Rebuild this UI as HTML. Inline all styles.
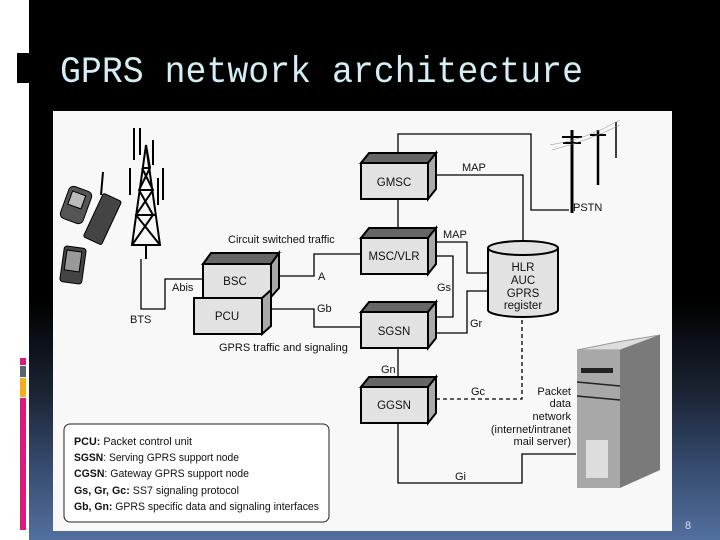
<!DOCTYPE html>
<html><head><meta charset="utf-8"><style>
html,body{margin:0;padding:0}
body{width:720px;height:540px;overflow:hidden;position:relative;background:#fff;font-family:"Liberation Sans",sans-serif}
#bg{position:absolute;left:29px;top:0;width:691px;height:540px;background:linear-gradient(to bottom,#000 0,#000 300px,#1a2232 390px,#34486a 460px,#52709e 540px)}
</style></head><body>
<div id="bg"></div>
<svg width="720" height="540" style="position:absolute;left:0;top:0" font-family="Liberation Sans, sans-serif">
<rect x="17" y="53" width="12" height="30" fill="#000"/>
<rect x="20" y="358" width="6" height="7" fill="#d81b7a"/>
<rect x="20" y="366" width="6" height="11" fill="#5a6470"/>
<rect x="20" y="378" width="6" height="19" fill="#f2b01a"/>
<rect x="20" y="398" width="6" height="132" fill="#d81b7a"/>
<text x="60" y="82" font-family="Liberation Mono, monospace" font-size="37" fill="#d4eef6" textLength="523" lengthAdjust="spacingAndGlyphs">GPRS network architecture</text>
<text x="685" y="529" font-size="11" fill="#dde">8</text>
<rect x="53" y="111" width="619" height="420" fill="#f8f8f8"/>
<g stroke="#000" stroke-width="1.3" fill="none">
<polyline points="398,153 398,134 531,134 531,210 569,210"/>
<polyline points="436,175 523,175 523,241"/>
<line x1="398" y1="199" x2="398" y2="229"/>
<polyline points="436,242 467,242 467,273 488,273"/>
<polyline points="436,256 453,256 453,317 436,317"/>
<polyline points="436,333 467,333 467,291 488,291"/>
<polyline points="275,276 314,276 314,254 361,254"/>
<polyline points="265,309 314,309 314,327 361,327"/>
<polyline points="141,259 141,309 165,309 165,279 203,279"/>
<line x1="398" y1="348" x2="398" y2="378"/>
<polyline points="398,422 398,483 522,483 522,454 576,454"/>
<polyline points="436,399 522,399 522,316" stroke-dasharray="4,3"/>
</g>
<g stroke="#000" stroke-width="2">
<g fill="#e2e2e2">
<polygon points="361,163 369,153 436,153 428,163" fill="#666"/><polygon points="428,163 436,153 436,189 428,199" fill="#aaa"/><rect x="361" y="163" width="67" height="36"/>
<polygon points="361,238 369,228 436,228 428,238" fill="#666"/><polygon points="428,238 436,228 436,264 428,274" fill="#aaa"/><rect x="361" y="238" width="67" height="36"/>
<polygon points="361,312 369,302 436,302 428,312" fill="#666"/><polygon points="428,312 436,302 436,338 428,348" fill="#aaa"/><rect x="361" y="312" width="67" height="36"/>
<polygon points="361,387 369,377 436,377 428,387" fill="#666"/><polygon points="428,387 436,377 436,413 428,423" fill="#aaa"/><rect x="361" y="387" width="67" height="36"/>
<polygon points="203,264 211,253 279,253 271,264" fill="#666"/><polygon points="271,264 279,253 279,288 271,297" fill="#aaa"/><rect x="203" y="264" width="68" height="34"/>
<polygon points="262,298 271,290 271,326 262,334" fill="#aaa"/><rect x="194" y="298" width="68" height="36"/>
</g>
<path d="M488,248 v62 a35,7 0 0 0 70,0 v-62" fill="#e2e2e2"/>
<ellipse cx="523" cy="248" rx="35" ry="7" fill="#e2e2e2"/>
</g>
<g font-size="11.5" fill="#111" text-anchor="middle">
<text x="394" y="186">GMSC</text><text x="394" y="260">MSC/VLR</text><text x="394" y="335">SGSN</text><text x="394" y="409">GGSN</text>
<text x="235" y="285">BSC</text><text x="227" y="320">PCU</text>
<text x="523" y="271">HLR</text><text x="523" y="284">AUC</text><text x="523" y="297">GPRS</text><text x="523" y="309">register</text>
</g>
<g font-size="11" fill="#111">
<text x="462" y="171">MAP</text><text x="573" y="211">PSTN</text><text x="228" y="243">Circuit switched traffic</text>
<text x="443" y="238">MAP</text><text x="318" y="280">A</text><text x="172" y="291">Abis</text><text x="130" y="323">BTS</text>
<text x="317" y="312">Gb</text><text x="437" y="291">Gs</text><text x="470" y="327">Gr</text>
<text x="219" y="351">GPRS traffic and signaling</text><text x="381" y="373">Gn</text><text x="471" y="395">Gc</text><text x="455" y="480">Gi</text>
<g text-anchor="end"><text x="571" y="395">Packet</text><text x="571" y="407">data</text><text x="571" y="420">network</text><text x="571" y="433">(internet/intranet</text><text x="571" y="445">mail server)</text></g>
</g>
<rect x="64" y="424" width="265" height="98" rx="6" fill="#fff" stroke="#222" stroke-width="1"/>
<g font-size="11" fill="#111">
<text x="74" y="445" textLength="118" lengthAdjust="spacingAndGlyphs"><tspan font-weight="bold">PCU:</tspan> Packet control unit</text>
<text x="74" y="461" textLength="165" lengthAdjust="spacingAndGlyphs"><tspan font-weight="bold">SGSN</tspan>: Serving GPRS support node</text>
<text x="74" y="477" textLength="175" lengthAdjust="spacingAndGlyphs"><tspan font-weight="bold">CGSN</tspan>: Gateway GPRS support node</text>
<text x="74" y="494" textLength="165" lengthAdjust="spacingAndGlyphs"><tspan font-weight="bold">Gs, Gr, Gc:</tspan> SS7 signaling protocol</text>
<text x="74" y="510" textLength="245" lengthAdjust="spacingAndGlyphs"><tspan font-weight="bold">Gb, Gn:</tspan> GPRS specific data and signaling interfaces</text>
</g>
<!-- tower -->
<g stroke="#000" stroke-width="2" fill="none">
<polygon points="146,145 132,245 160,245"/>
<line x1="136" y1="215" x2="156" y2="215"/><line x1="139" y1="190" x2="153" y2="190"/><line x1="142" y1="168" x2="150" y2="168"/>
<polyline points="132,245 153,215 139,190 150,168 146,145"/><polyline points="160,245 136,215 153,190 142,168"/>
<line x1="134" y1="128" x2="134" y2="160"/><line x1="140" y1="128" x2="140" y2="155"/><line x1="153" y1="140" x2="153" y2="165"/>
<line x1="130" y1="168" x2="130" y2="195"/><line x1="163" y1="168" x2="163" y2="200"/><line x1="158" y1="178" x2="158" y2="205"/>
<line x1="146" y1="245" x2="146" y2="259"/>
</g>
<!-- phones -->
<g stroke="#000" stroke-width="1">
<rect x="64" y="188" width="24" height="34" rx="5" fill="#555" transform="rotate(20 76 205)"/>
<rect x="68" y="193" width="14" height="14" fill="#bbb" transform="rotate(20 76 205)"/>
<rect x="92" y="195" width="20" height="48" rx="2" fill="#444" transform="rotate(25 102 220)"/>
<line x1="103" y1="172" x2="101" y2="195" stroke-width="2"/>
<rect x="62" y="247" width="22" height="36" rx="3" fill="#444" transform="rotate(8 73 265)"/>
<rect x="65" y="251" width="15" height="20" fill="#999" transform="rotate(8 73 265)"/>
</g>
<!-- poles -->
<g stroke="#000" fill="none">
<line x1="572" y1="130" x2="572" y2="213" stroke-width="3"/><line x1="562" y1="137" x2="582" y2="137" stroke-width="2"/><line x1="563" y1="143" x2="581" y2="143" stroke-width="2"/>
<line x1="598" y1="130" x2="598" y2="185" stroke-width="2.5"/><line x1="590" y1="135" x2="606" y2="135" stroke-width="2"/>
<line x1="616" y1="122" x2="616" y2="158" stroke-width="1.5"/>
<path d="M550,145 Q585,140 620,120 M552,150 Q590,140 620,125" stroke-width="0.5" stroke="#888"/>
</g>
<!-- server -->
<polygon points="577,350 620,350 660,335 617,342" fill="#ddd" stroke="#999"/>
<polygon points="620,350 660,335 660,470 620,488" fill="#7a7a7a"/>
<rect x="577" y="350" width="43" height="138" fill="#a8a8a8"/>
<rect x="581" y="368" width="32" height="5" fill="#222"/>
<line x1="577" y1="382" x2="620" y2="386" stroke="#222" stroke-width="1.5"/>
<line x1="577" y1="396" x2="620" y2="400" stroke="#222" stroke-width="1.5"/>
<rect x="586" y="440" width="22" height="38" fill="#ddd"/>
</svg>
</body></html>
